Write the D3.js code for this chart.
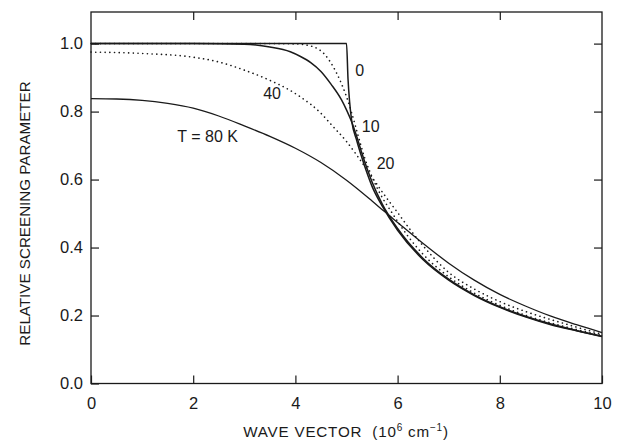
<!DOCTYPE html>
<html>
<head>
<meta charset="utf-8">
<script src="https://cdn.jsdelivr.net/npm/d3@7"></script>
<style>
  html, body { margin: 0; padding: 0; background: #fff; }
  svg { display: block; font-family: "Liberation Sans", Arial, Helvetica, sans-serif; }
  .tick text { fill: #1a1a1a; }
</style>
</head>
<body>
<svg id="chart" width="617" height="443"></svg>
<script>
// Relative screening parameter vs. wave vector (10^6 cm^-1) at several temperatures.
const q_T0  = [0, 1, 2, 3, 4, 5, 5.03, 5.06, 5.1, 5.2, 5.3, 5.4, 5.5, 5.7, 6, 6.5, 7, 7.5, 8, 8.5, 9, 9.5, 10];
const s_T0  = [1, 1, 1, 1, 1, 1, 0.895, 0.83, 0.775, 0.715, 0.665, 0.62, 0.58, 0.522, 0.451, 0.364, 0.304, 0.259, 0.224, 0.196, 0.173, 0.155, 0.138];

const q_T10 = [0, 1, 2, 3, 3.5, 3.9, 4.1, 4.3, 4.5, 4.7, 4.9, 5.0, 5.1, 5.2, 5.3, 5.4, 5.5, 5.7, 6, 6.5, 7, 7.5, 8, 8.5, 9, 9.5, 10];
const s_T10 = [1, 1, 1, 0.998, 0.99, 0.976, 0.962, 0.944, 0.918, 0.88, 0.835, 0.805, 0.77, 0.727, 0.678, 0.633, 0.593, 0.528, 0.456, 0.368, 0.307, 0.261, 0.226, 0.198, 0.175, 0.156, 0.139];

const q_T20 = [0, 1, 2, 3, 3.5, 4.0, 4.3, 4.58, 4.74, 4.87, 5.0, 5.1, 5.23, 5.36, 5.5, 5.66, 5.9, 6.2, 6.5, 7, 7.5, 8, 8.5, 9, 9.5, 10];
const s_T20 = [1, 1, 1, 1, 1, 0.999, 0.993, 0.967, 0.932, 0.893, 0.844, 0.797, 0.728, 0.662, 0.608, 0.558, 0.5, 0.434, 0.38, 0.314, 0.266, 0.23, 0.201, 0.178, 0.159, 0.141];

const q_T40 = [0, 1, 2, 2.5, 3, 3.5, 3.9, 4.1, 4.5, 4.7, 5.0, 5.2, 5.5, 5.75, 6, 6.25, 6.5, 7, 7.5, 8, 8.5, 9, 9.5, 10];
const s_T40 = [0.975, 0.971, 0.96, 0.946, 0.922, 0.892, 0.862, 0.843, 0.795, 0.762, 0.712, 0.672, 0.607, 0.553, 0.503, 0.452, 0.405, 0.327, 0.278, 0.241, 0.212, 0.188, 0.166, 0.145];

const q_T80 = [0, 0.5, 1, 1.5, 2, 2.5, 3, 3.5, 4, 4.5, 5, 5.5, 5.75, 6, 6.5, 7, 7.5, 8, 8.5, 9, 9.5, 10];
const s_T80 = [0.838, 0.837, 0.833, 0.824, 0.81, 0.787, 0.758, 0.727, 0.692, 0.65, 0.598, 0.537, 0.505, 0.474, 0.412, 0.354, 0.304, 0.262, 0.228, 0.198, 0.173, 0.15];

const xTicks = [0, 2, 4, 6, 8, 10];
const yTicks = [0, 0.2, 0.4, 0.6, 0.8, 1.0];

// curve labels: text, wave vector at left edge, screening value at mid-height
const curveLabels = [
  { text: "0",        q: 5.17, s: 0.923 },
  { text: "10",       q: 5.30, s: 0.756 },
  { text: "20",       q: 5.59, s: 0.648 },
  { text: "40",       q: 3.37, s: 0.853 },
  { text: "T = 80 K", q: 1.69, s: 0.726 }
];

const series = [
  { q: q_T0,  s: s_T0,  dotted: false, w: 1.5 },
  { q: q_T10, s: s_T10, dotted: false, w: 1.5 },
  { q: q_T20, s: s_T20, dotted: true,  w: 1.6 },
  { q: q_T40, s: s_T40, dotted: true,  w: 1.6 },
  { q: q_T80, s: s_T80, dotted: false, w: 1.3 }
];

const svg = d3.select("#chart");
const plotL = 91, plotR = 602, plotT = 12, plotB = 383.5;
const ink = "#1a1a1a";

const x = d3.scaleLinear().domain([0, 10]).range([plotL, plotR]);
const y = d3.scaleLinear().domain([0, 1.093]).range([plotB, plotT]);

// frame
svg.append("rect")
  .attr("x", plotL).attr("y", plotT)
  .attr("width", plotR - plotL).attr("height", plotB - plotT)
  .attr("fill", "none").attr("stroke", ink).attr("stroke-width", 1.3);

const fmt = d3.format(".1f");

// axes with inward ticks on all four sides
const gL = svg.append("g").attr("transform", `translate(${plotL},0)`)
  .call(d3.axisLeft(y).tickValues(yTicks).tickFormat(fmt).tickSizeInner(-8).tickSizeOuter(0).tickPadding(8));
const gB = svg.append("g").attr("transform", `translate(0,${plotB})`)
  .call(d3.axisBottom(x).tickValues(xTicks).tickFormat(d3.format("d")).tickSizeInner(-8).tickSizeOuter(0).tickPadding(13.5));
const gT = svg.append("g").attr("transform", `translate(0,${plotT})`)
  .call(d3.axisTop(x).tickValues(xTicks.slice(1, -1)).tickFormat("").tickSizeInner(-8).tickSizeOuter(0));
const gR = svg.append("g").attr("transform", `translate(${plotR},0)`)
  .call(d3.axisRight(y).tickValues(yTicks.slice(1)).tickFormat("").tickSizeInner(-8).tickSizeOuter(0));

[gL, gB, gT, gR].forEach(g => {
  g.select(".domain").remove();
  g.selectAll(".tick line").attr("stroke", ink).attr("stroke-width", 1.2);
  g.selectAll(".tick text").attr("font-size", 16.5).attr("font-family", "Liberation Sans, Arial, sans-serif").attr("fill", ink);
});

// curves
const line = d3.line()
  .x(d => x(d[0]))
  .y(d => y(d[1]))
  .curve(d3.curveMonotoneX);

series.forEach(sr => {
  const pts = sr.q.map((q, i) => [q, sr.s[i]]);
  const p = svg.append("path")
    .datum(pts)
    .attr("d", line)
    .attr("fill", "none")
    .attr("stroke", ink)
    .attr("stroke-width", sr.w)
    .attr("stroke-linejoin", "round");
  if (sr.dotted) {
    p.attr("stroke-dasharray", "0.1 4.6").attr("stroke-linecap", "round");
  }
});

// curve labels
svg.selectAll("text.curve-label")
  .data(curveLabels)
  .enter().append("text")
  .attr("class", "curve-label")
  .attr("x", d => x(d.q))
  .attr("y", d => y(d.s))
  .attr("dy", "0.36em")
  .attr("text-anchor", "start")
  .attr("font-size", 16)
  .attr("fill", ink)
  .text(d => d.text);

// axis titles
svg.append("text")
  .attr("transform", "translate(25,213.5) rotate(-90)")
  .attr("text-anchor", "middle")
  .attr("dy", "0.36em")
  .attr("font-size", 15.2)
  .attr("fill", ink)
  .text("RELATIVE SCREENING PARAMETER");

const xt = svg.append("text")
  .attr("x", 346)
  .attr("y", 437)
  .attr("text-anchor", "middle")
  .attr("font-size", 15.2)
  .attr("letter-spacing", "0.8px")
  .attr("fill", ink)
  .attr("xml:space", "preserve");
xt.append("tspan").text("WAVE VECTOR  (10");
xt.append("tspan").attr("font-size", 10).attr("dy", -6).text("6");
xt.append("tspan").attr("dy", 6).text(" cm");
xt.append("tspan").attr("font-size", 10).attr("dy", -6).text("\u22121");
xt.append("tspan").attr("dy", 6).text(")");
</script>
</body>
</html>
